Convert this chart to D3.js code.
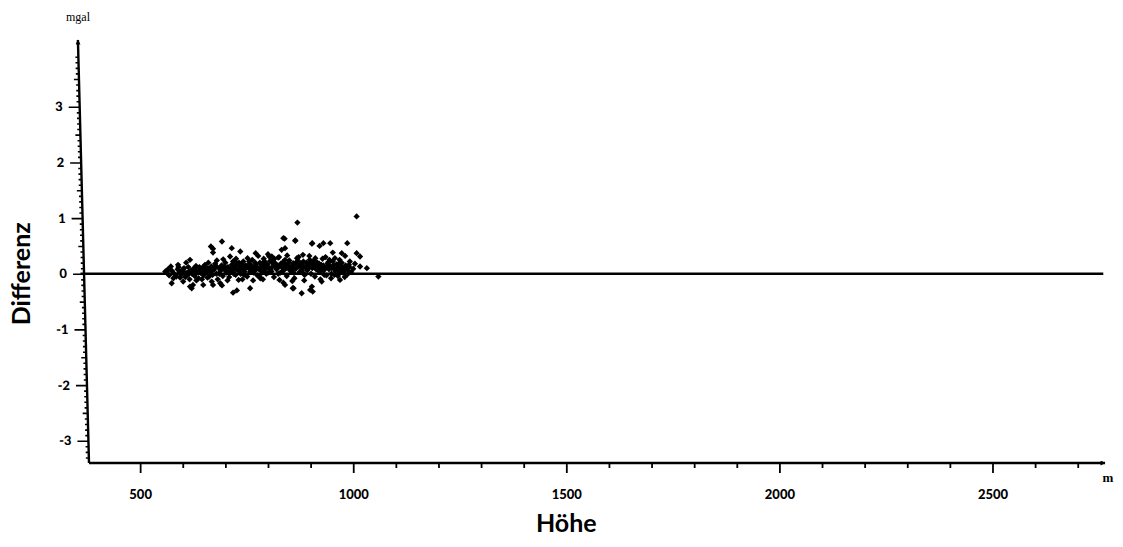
<!DOCTYPE html>
<html>
<head>
<meta charset="utf-8">
<script src="https://cdn.jsdelivr.net/npm/d3@7"></script>
<style>
html,body{margin:0;padding:0;background:#fff;}
svg{display:block;}
text{fill:#000;}
</style>
</head>
<body>
<svg id="chart" width="1123" height="547"></svg>
<script>
// ---------- data ----------
const xTickLabels = [500, 1000, 1500, 2000, 2500];
const yTickLabels = [-3, -2, -1, 0, 1, 2, 3];
const xTitle = "Höhe";
const yTitle = "Differenz";
const yUnit = "mgal";
const xUnit = "m";

// Höhe (m)
const hoehe = [
 692,666,671,671,617,608,589,572,566,559,574,594,601,617,624,621,648,668,671,688,692,718,711,718,715,
 839,864,904,771,735,800,809,832,840,824,840,882,868,899,731,758,782,840,860,879,903,727,
 869,1008,836,864,903,921,930,946,986,952,973,981,1008,1016,1004,1016,1032,1059,836,858,899,905,926,969,
 562,568,575,580,585,588,592,596,600,603,606,610,613,616,619,622,625,628,631,634,637,640,643,646,649,652,655,658,661,664,667,670,673,676,679,682,685,688,691,694,697,700,
 703,706,709,712,715,718,721,724,727,730,733,736,739,742,745,748,751,754,757,760,763,766,769,772,775,778,781,784,787,790,793,796,799,
 802,805,808,811,814,817,820,823,826,829,832,835,838,841,844,847,850,853,856,859,862,865,868,871,874,877,880,883,886,889,892,895,898,
 901,904,907,910,913,916,919,922,925,928,931,934,937,940,943,946,949,952,955,958,961,964,967,970,973,976,979,982,985,988,991,995,1000,
 565,578,590,598,612,627,639,650,662,674,686,698,710,722,734,746,758,770,782,794,806,818,830,842,854,866,878,890,902,914,926,938,950,962,974,986,
 605,632,645,660,680,695,705,725,740,752,765,777,788,803,815,827,845,857,872,885,897,911,923,935,948,957,968,980,992,
 600,615,630,642,655,668,678,690,702,714,726,738,750,762,774,786,798,810,822,834,846,858,870,882,894,906,918,930,942,954,966,978,990,
 720,732,744,756,768,780,792,800,812,824,836,848,860,872,884,896,908,920,932,944,956,966,740,760,790,850,880,915
];
// Differenz (mgal)
const differenz = [
 0.58,0.49,0.45,0.38,0.25,0.20,0.16,0.13,0.07,0.04,-0.17,-0.07,-0.14,-0.23,-0.20,-0.26,-0.20,-0.14,-0.20,-0.17,-0.21,-0.34,0.31,0.22,0.46,
 0.63,0.59,0.55,0.37,0.40,0.35,0.31,0.43,0.46,0.29,0.25,0.34,0.22,0.20,-0.11,-0.26,-0.08,-0.20,-0.26,-0.35,-0.23,-0.30,
 0.92,1.03,0.64,0.60,0.54,0.50,0.55,0.55,0.55,0.38,0.37,0.32,0.37,0.31,0.18,0.13,0.10,-0.05,-0.16,-0.26,-0.29,-0.32,-0.14,-0.11,
 0.02,-0.03,0.05,0.00,-0.05,0.08,0.03,-0.02,0.06,0.10,-0.06,0.02,0.12,-0.10,0.05,0.00,0.09,-0.04,0.14,0.03,-0.08,0.07,0.01,0.11,-0.03,0.16,0.04,-0.07,0.09,0.02,0.13,-0.02,0.07,0.18,0.00,-0.10,0.10,0.05,0.15,-0.04,0.08,0.20,
 0.02,0.12,-0.06,0.07,0.16,0.03,0.10,-0.02,0.19,0.06,0.13,0.00,0.09,0.22,0.04,0.15,-0.05,0.10,0.18,0.07,0.25,0.02,0.12,0.16,-0.03,0.09,0.20,0.05,0.14,0.27,0.08,0.00,0.17,
 0.11,0.23,0.04,0.13,-0.06,0.19,0.08,0.15,0.30,0.02,0.12,0.21,0.07,0.16,-0.04,0.10,0.24,0.05,0.14,0.19,-0.08,0.09,0.28,0.13,0.03,0.17,0.10,0.22,-0.02,0.12,0.06,0.18,0.25,
 0.00,0.10,0.15,-0.05,0.08,0.20,0.12,0.03,0.16,0.27,0.06,0.11,-0.03,0.19,0.08,0.14,0.00,0.22,0.10,0.05,0.17,-0.04,0.12,0.07,0.20,0.02,0.10,0.15,-0.02,0.06,0.12,0.03,0.09,
 0.08,-0.08,0.12,0.04,-0.02,0.04,0.12,0.06,-0.05,0.10,0.00,0.13,0.04,0.14,0.07,0.10,0.03,0.20,0.12,0.16,0.07,0.12,0.18,0.10,0.08,0.16,0.05,0.20,0.14,0.16,0.08,0.13,0.10,0.08,0.13,0.10,
 0.00,-0.12,-0.10,0.20,0.24,0.26,-0.12,0.27,-0.10,0.28,-0.12,0.32,-0.10,0.31,0.27,-0.11,0.33,-0.13,0.30,-0.12,0.32,0.28,-0.10,0.30,-0.08,0.28,0.25,-0.06,0.22,
 0.08,0.03,0.08,0.04,0.12,0.06,0.14,0.09,0.06,0.11,0.08,0.15,0.12,0.14,0.09,0.18,0.13,0.20,0.10,0.14,0.17,0.11,0.20,0.15,0.09,0.19,0.06,0.15,0.21,0.15,0.18,0.05,0.16,
 0.00,0.20,-0.02,0.22,0.05,-0.04,0.22,0.02,0.25,0.00,0.06,0.20,0.02,0.22,0.00,0.14,0.24,0.18,-0.02,0.25,-0.02,0.00,0.17,0.10,0.04,0.12,0.07,0.11
];
const points = hoehe.map((h, i) => ({h, d: differenz[i]}));

// ---------- layout ----------
const svg = d3.select("#chart");
const x = d3.scaleLinear().domain([380, 2764]).range([89, 1105]);
const y = d3.scaleLinear().domain([-3.4, 4.2]).range([463, 40]);
const font = "Lato, 'Open Sans', sans-serif";

svg.append("defs").append("marker")
  .attr("id", "arrow").attr("viewBox", "0 0 10 10")
  .attr("refX", 9).attr("refY", 5)
  .attr("markerWidth", 8).attr("markerHeight", 5)
  .attr("markerUnits", "userSpaceOnUse")
  .attr("orient", "auto")
  .append("path").attr("d", "M0,0 L10,5 L0,10 z").attr("fill", "#000");

// zero line
svg.append("line")
  .attr("x1", x(360)).attr("x2", x(2760))
  .attr("y1", y(0)).attr("y2", y(0))
  .attr("stroke", "#000").attr("stroke-width", 2.4);

// x axis
const xg = svg.append("g").attr("transform", `translate(0,${y(-3.4)})`);
xg.append("line").attr("class", "axisline").attr("x1", x(380)).attr("x2", x(2764))
  .attr("stroke", "#000").attr("stroke-width", 2.4).attr("marker-end", "url(#arrow)");
xg.append("g").call(d3.axisBottom(x).tickValues(d3.range(600, 2701, 100).filter(v => v % 500 !== 0)).tickSize(5).tickFormat(""))
  .call(g => g.select(".domain").remove());
xg.append("g").call(d3.axisBottom(x).tickValues(xTickLabels).tickSize(10).tickPadding(17).tickFormat(d3.format("d")))
  .call(g => g.select(".domain").remove())
  .call(g => g.selectAll("text").attr("font-family", font).attr("font-weight", "900").attr("font-size", 13));
xg.selectAll(".tick line").attr("stroke-width", 1.8).attr("stroke", "#000");

// y axis (slightly slanted like the scanned original)
const yg = svg.append("g").attr("transform", `translate(${x(380)},${y(-3.4)}) skewX(1.5) translate(0,${-y(-3.4)})`);
yg.append("line").attr("y1", y(-3.4)).attr("y2", y(4.2))
  .attr("stroke", "#000").attr("stroke-width", 2.4).attr("marker-end", "url(#arrow)");
yg.append("g").call(d3.axisLeft(y).tickValues(d3.range(-33, 41, 1).filter(v => v % 5 !== 0).map(v => v / 10)).tickSize(3).tickFormat(""))
  .call(g => g.select(".domain").remove());
yg.append("g").call(d3.axisLeft(y).tickValues(d3.range(-2.5, 4.1, 1)).tickSize(5).tickFormat(""))
  .call(g => g.select(".domain").remove());
yg.append("g").call(d3.axisLeft(y).tickValues(yTickLabels).tickSize(11).tickPadding(6).tickFormat(d3.format("d")))
  .call(g => g.select(".domain").remove())
  .call(g => g.selectAll("text").attr("font-family", font).attr("font-weight", "900").attr("font-size", 13).text(d => d < 0 ? "-" + Math.abs(d) : d));
yg.selectAll(".tick line").attr("stroke-width", 1.6).attr("stroke", "#000");

// points (diamonds)
svg.append("g").selectAll("path").data(points).join("path")
  .attr("transform", p => `translate(${x(p.h)},${y(p.d)}) rotate(45)`)
  .attr("d", d3.symbol().type(d3.symbolSquare).size(20))
  .attr("fill", "#000");

// titles
svg.append("text").attr("x", 78).attr("y", 21).attr("text-anchor", "middle")
  .attr("font-family", "'Liberation Serif', serif").attr("font-size", 12).text(yUnit);
svg.append("text").attr("x", 1108).attr("y", 482).attr("text-anchor", "middle")
  .attr("font-family", "'Liberation Serif', serif").attr("font-weight", "bold").attr("font-size", 13).text(xUnit);
svg.append("text").attr("x", x(1500)).attr("y", 532).attr("text-anchor", "middle")
  .attr("font-family", font).attr("font-weight", "bold").attr("font-size", 25).text(xTitle);
svg.append("text").attr("transform", `translate(30,${y(0)}) rotate(-90)`).attr("text-anchor", "middle")
  .attr("font-family", font).attr("font-weight", "bold").attr("font-size", 25).text(yTitle);
</script>
</body>
</html>
